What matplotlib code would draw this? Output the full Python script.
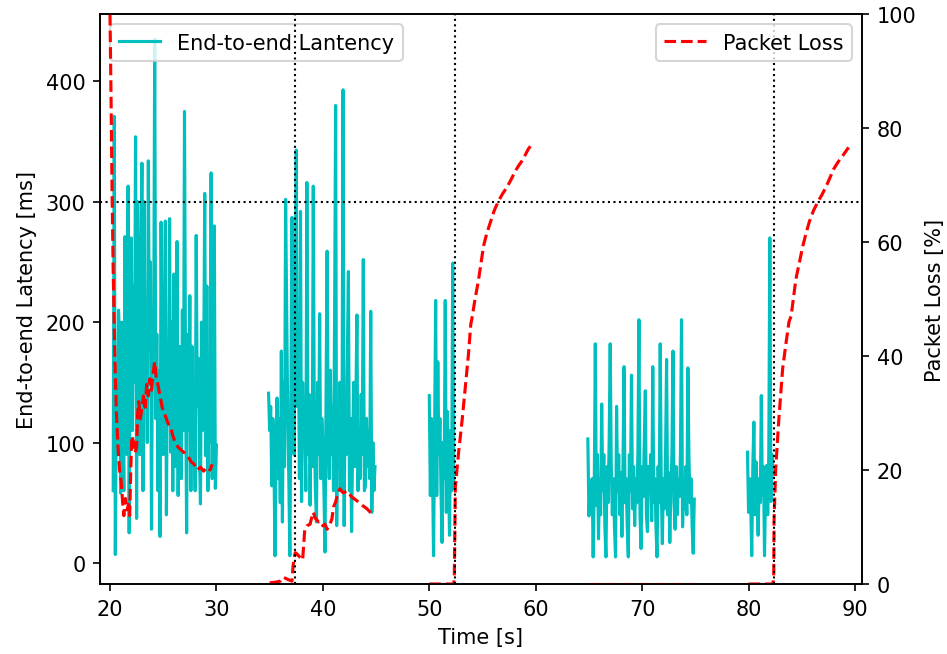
import numpy as np
import matplotlib
matplotlib.use("Agg")
import matplotlib.pyplot as plt

# ---------------- data ----------------
lat1_range = (20.3, 30.0)
lat1 = [60, 371, 7, 150, 95, 210, 186, 58, 200, 120, 60, 271, 140, 90, 313, 25, 190, 270, 110, 230,
        150, 354, 37, 300, 180, 90, 240, 332, 60, 300, 140, 200, 100, 334, 180, 250, 28, 210, 170, 435,
        120, 190, 60, 160, 22, 283, 150, 90, 200, 284, 40, 170, 120, 286, 92, 200, 60, 240, 150, 80,
        267, 56, 180, 130, 70, 210, 110, 375, 150, 25, 190, 110, 222, 60, 180, 100, 140, 60, 272, 130,
        170, 90, 49, 200, 110, 160, 307, 89, 230, 60, 140, 100, 324, 70, 200, 280, 62, 98]

lat2_range = (34.9, 44.9)
lat2 = [141, 110, 130, 64, 120, 90, 6, 100, 137, 70, 120, 50, 176, 34, 150, 80, 302, 212, 120, 70,
        6, 140, 287, 160, 90, 200, 343, 130, 180, 70, 292, 51, 150, 100, 120, 60, 316, 90, 140, 48,
        130, 80, 313, 110, 60, 34, 150, 90, 207, 70, 120, 100, 60, 9, 140, 259, 110, 70, 160, 90,
        130, 60, 200, 380, 31, 120, 80, 150, 60, 100, 393, 31, 140, 90, 170, 242, 60, 120, 26, 100,
        150, 80, 130, 206, 60, 110, 70, 140, 90, 252, 60, 64, 120, 80, 110, 70, 209, 42, 100, 60, 80]

lat3_range = (50.0, 52.3)
lat3 = [139, 56, 120, 80, 6, 110, 218, 56, 167, 90, 120, 60, 17, 100, 70, 218, 42, 126, 80, 23,
        110, 60, 249, 62]

lat4_range = (64.9, 74.9)
lat4 = [103, 39, 60, 45, 70, 5, 60, 182, 48, 90, 20, 70, 40, 132, 60, 90, 30, 5, 80, 50,
        100, 182, 81, 40, 70, 30, 5, 130, 60, 90, 40, 75, 22, 80, 163, 50, 70, 30, 5, 90,
        60, 156, 45, 80, 31, 70, 50, 90, 202, 40, 12, 80, 55, 100, 143, 40, 26, 80, 60, 90,
        35, 163, 50, 70, 30, 5, 80, 50, 182, 60, 16, 70, 45, 90, 169, 40, 75, 17, 60, 90,
        176, 50, 28, 80, 40, 70, 55, 90, 202, 30, 60, 45, 80, 40, 162, 87, 50, 70, 30, 8, 53]

lat5_range = (79.9, 82.3)
lat5 = [92, 42, 70, 50, 6, 80, 117, 40, 84, 60, 23, 70, 50, 139, 56, 80, 6, 60, 81, 40,
        90, 270, 51, 90, 73]

loss1_t = [20.0, 20.1, 20.2, 20.3, 20.45, 20.6, 20.75, 20.9, 21.05, 21.2, 21.3, 21.45, 21.6, 21.75,
           21.85, 21.95, 22.05, 22.2, 22.35, 22.5, 22.6, 22.7, 22.85, 23.0, 23.15, 23.3, 23.45, 23.6,
           23.75, 23.9, 24.05, 24.2, 24.35, 24.5, 24.7, 24.9, 25.1, 25.3, 25.5, 25.7, 25.9, 26.1,
           26.4, 26.7, 27.0, 27.3, 27.6, 27.9, 28.2, 28.5, 28.8, 29.1, 29.4, 29.6]
loss1 = [100, 85, 68, 55, 40, 30, 24, 20, 18, 14, 12, 15, 13, 14,
         12, 20, 26, 25, 23, 24, 30, 32, 29, 31, 33, 31, 35, 33,
         36, 34, 37, 39, 36, 35, 33, 31, 30, 29, 28, 27.5, 26, 25,
         24, 23.5, 23, 22.5, 21.5, 21, 20, 20.5, 19.8, 20.5, 20, 21]

loss2_t = [35.0, 35.5, 36.0, 36.3, 36.7, 37.1, 37.2, 37.4, 37.55, 37.8, 38.1, 38.3, 38.5, 38.8,
           39.0, 39.1, 39.3, 39.6, 39.8, 40.0, 40.2, 40.4, 40.6, 40.85, 41.0, 41.2, 41.4, 41.6,
           41.9, 42.3, 42.7, 43.2, 43.7, 44.15, 44.6]
loss2 = [0.2, 0.3, 0.5, 1.2, 0.8, 0.5, 3.2, 5.5, 5.3, 4.8, 4.2, 9.6, 10.2, 10.5,
         12.0, 12.6, 11.5, 10.9, 11.0, 10.2, 10.5, 9.6, 10.2, 11.4, 13.5, 14.4, 15.8, 16.7,
         16.0, 16.3, 15.3, 14.6, 13.8, 13.2, 12.3]

loss3_t = [50.0, 50.5, 51.0, 51.5, 52.0, 52.3, 52.35, 52.45, 52.75, 53.1, 53.4, 53.7, 53.9, 54.0,
           54.3, 54.6, 55.1, 55.4, 55.75, 56.1, 56.5, 56.9, 57.3, 57.7, 58.1, 58.4, 58.7, 59.0,
           59.3, 59.5]
loss3 = [0, 0, 0, 0, 0, 0, 1, 17, 23, 29, 34.8, 40.7, 45.6, 46.5,
         50, 53, 59.3, 61.5, 63.5, 65.5, 67.2, 68.5, 69.6, 71, 72.5, 73.4, 74.2, 75.2,
         76.3, 76.8]

loss4_t = [65.0, 70.0, 75.0]
loss4 = [0, 0, 0]

loss5_t = [80.0, 81.0, 82.0, 82.3, 82.37, 82.4, 82.55, 82.85, 83.2, 83.5, 83.8, 84.0, 84.45,
           85.1, 85.4, 85.7, 86.1, 86.5, 86.9, 87.3, 87.7, 88.0, 88.4, 88.8, 89.1, 89.4]
loss5 = [0, 0, 0, 0, 2, 11.4, 20.2, 29, 37.7, 42, 46, 47, 53.5,
         59.3, 61.5, 63.5, 65.5, 67, 68.3, 69.8, 71.5, 72.8, 74, 75, 75.8, 76.6]

event_times = [37.4, 52.4, 82.4]
latency_threshold = 300

# ---------------- plot ----------------
fig = plt.figure(figsize=(947 / 150, 655 / 150), dpi=150)
ax1 = fig.add_axes([100 / 947, 1 - 585 / 655, 762 / 947, 570 / 655])
ax2 = ax1.twinx()

segments = [(lat1_range, lat1), (lat2_range, lat2), (lat3_range, lat3),
            (lat4_range, lat4), (lat5_range, lat5)]
for i, (rng, vals) in enumerate(segments):
    t = np.linspace(rng[0], rng[1], len(vals))
    ax1.plot(t, vals, color='c', linewidth=1.5,
             label='End-to-end Lantency' if i == 0 else None)

ax1.axhline(latency_threshold, color='k', linestyle=':', linewidth=1)

loss_segments = [(loss1_t, loss1), (loss2_t, loss2), (loss3_t, loss3),
                 (loss4_t, loss4), (loss5_t, loss5)]
for i, (t, v) in enumerate(loss_segments):
    ax2.plot(t, v, 'r--', linewidth=1.5, label='Packet Loss' if i == 0 else None)

for et in event_times:
    ax2.axvline(et, color='k', linestyle=':', linewidth=1)

ax1.set_xlim(19.06, 90.66)
ax1.set_ylim(-17.5, 456)
ax2.set_ylim(0, 100)
ax1.set_xticks([20, 30, 40, 50, 60, 70, 80, 90])
ax1.set_yticks([0, 100, 200, 300, 400])
ax2.set_yticks([0, 20, 40, 60, 80, 100])

ax1.set_xlabel('Time [s]')
ax1.set_ylabel('End-to-end Latency [ms]')
ax2.set_ylabel('Packet Loss [%]')

ax1.legend(loc='upper left')
ax2.legend(loc='upper right')

fig.savefig('out.png', dpi=150)
